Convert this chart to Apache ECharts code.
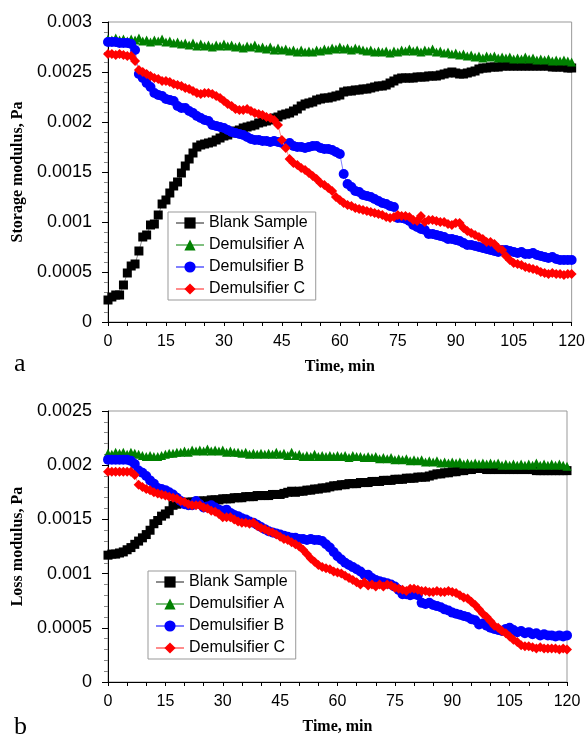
<!DOCTYPE html>
<html>
<head>
<meta charset="utf-8">
<script src="https://cdn.jsdelivr.net/npm/echarts@6/dist/echarts.min.js"></script>
<style>
  html, body { margin: 0; padding: 0; background: #fff; }
  #chart { width: 588px; height: 736px; }
</style>
</head>
<body>
<div id="chart"></div>
<script>
// time axis, one reading per minute
const minutes = Array.from({ length: 121 }, (_, i) => i)
const seriesNames = ['Blank Sample', 'Demulsifier A', 'Demulsifier B', 'Demulsifier C']

// (a) storage modulus, Pa
const blankStorage = [
  0.00022, 0.00025, 0.00027, 0.00027, 0.00037, 0.00049, 0.00056, 0.00058, 0.00071, 0.00085,
  0.00087, 0.00097, 0.00098, 0.00107, 0.00118, 0.00122, 0.00129, 0.00136, 0.00140, 0.00149,
  0.00156, 0.00163, 0.00169, 0.00175, 0.00177, 0.00178, 0.00179, 0.00180, 0.00182, 0.00184,
  0.00186, 0.00187, 0.00189, 0.00191, 0.00192, 0.00194, 0.00195, 0.00196, 0.00197, 0.00199,
  0.00200, 0.00201, 0.00202, 0.00204, 0.00205, 0.00207, 0.00208, 0.00209, 0.00211, 0.00213,
  0.00216, 0.00218, 0.00219, 0.00220, 0.00222, 0.00223, 0.00224, 0.00224, 0.00225, 0.00226,
  0.00227, 0.00230, 0.00231, 0.00231, 0.00232, 0.00232, 0.00233, 0.00233, 0.00234, 0.00235,
  0.00236, 0.00236, 0.00237, 0.00239, 0.00241, 0.00243, 0.00244, 0.00244, 0.00244, 0.00244,
  0.00245, 0.00245, 0.00245, 0.00246, 0.00246, 0.00246, 0.00247, 0.00248, 0.00249, 0.00250,
  0.00249, 0.00248, 0.00248, 0.00249, 0.00250, 0.00251, 0.00253, 0.00254, 0.00254, 0.00255,
  0.00255, 0.00255, 0.00256, 0.00256, 0.00256, 0.00256, 0.00256, 0.00256, 0.00256, 0.00256,
  0.00256, 0.00256, 0.00256, 0.00256, 0.00256, 0.00255, 0.00255, 0.00255, 0.00255, 0.00254, 0.00254
]
const demAStorage = [
  0.00283, 0.00282, 0.00284, 0.00282, 0.00283, 0.00281, 0.00283, 0.00282, 0.00284, 0.00281,
  0.00282, 0.00280, 0.00282, 0.00281, 0.00283, 0.00280, 0.00281, 0.00279, 0.00280, 0.00278,
  0.00279, 0.00277, 0.00279, 0.00276, 0.00278, 0.00276, 0.00277, 0.00275, 0.00277, 0.00276,
  0.00278, 0.00276, 0.00277, 0.00275, 0.00276, 0.00274, 0.00276, 0.00275, 0.00277, 0.00274,
  0.00275, 0.00273, 0.00275, 0.00272, 0.00274, 0.00272, 0.00273, 0.00271, 0.00272, 0.00270,
  0.00272, 0.00270, 0.00271, 0.00270, 0.00272, 0.00271, 0.00273, 0.00272, 0.00274, 0.00273,
  0.00275, 0.00273, 0.00274, 0.00272, 0.00274, 0.00273, 0.00272, 0.00271, 0.00272, 0.00270,
  0.00271, 0.00270, 0.00271, 0.00269, 0.00271, 0.00270, 0.00272, 0.00271, 0.00273, 0.00271,
  0.00272, 0.00270, 0.00272, 0.00271, 0.00273, 0.00270, 0.00271, 0.00269, 0.00270, 0.00268,
  0.00269, 0.00267, 0.00268, 0.00266, 0.00267, 0.00265, 0.00266, 0.00264, 0.00266, 0.00265,
  0.00266, 0.00264, 0.00265, 0.00264, 0.00265, 0.00263, 0.00264, 0.00263, 0.00265, 0.00263,
  0.00264, 0.00262, 0.00263, 0.00262, 0.00263, 0.00261, 0.00262, 0.00261, 0.00262, 0.00261, 0.00260
]
const demBStorage = [
  0.00280, 0.00280, 0.00280, 0.00279, 0.00279, 0.00279, 0.00278, 0.00272, 0.00248, 0.00244,
  0.00239, 0.00235, 0.00229, 0.00227, 0.00226, 0.00223, 0.00222, 0.00221, 0.00216, 0.00214,
  0.00214, 0.00211, 0.00209, 0.00206, 0.00204, 0.00202, 0.00201, 0.00197, 0.00196, 0.00195,
  0.00194, 0.00192, 0.00190, 0.00189, 0.00188, 0.00187, 0.00185, 0.00183, 0.00182, 0.00182,
  0.00181, 0.00181, 0.00180, 0.00181, 0.00180, 0.00179, 0.00177, 0.00179, 0.00176, 0.00175,
  0.00175, 0.00174, 0.00175, 0.00176, 0.00176, 0.00174, 0.00173, 0.00173, 0.00172, 0.00170,
  0.00168, 0.00148, 0.00138, 0.00135, 0.00131, 0.00130, 0.00127, 0.00126, 0.00125, 0.00123,
  0.00121, 0.00119, 0.00118, 0.00116, 0.00115, 0.00104, 0.00104, 0.00103, 0.00101, 0.00097,
  0.00095, 0.00093, 0.00092, 0.00088, 0.00088, 0.00087, 0.00086, 0.00085, 0.00083, 0.00083,
  0.00082, 0.00081, 0.00079, 0.00077, 0.00077, 0.00076, 0.00075, 0.00074, 0.00073, 0.00072,
  0.00071, 0.00070, 0.00072, 0.00072, 0.00071, 0.00070, 0.00069, 0.00070, 0.00068, 0.00068,
  0.00069, 0.00067, 0.00066, 0.00065, 0.00064, 0.00065, 0.00063, 0.00062, 0.00062, 0.00062, 0.00062
]
const demCStorage = [
  0.00268, 0.00268, 0.00267, 0.00268, 0.00267, 0.00266, 0.00266, 0.00261, 0.00252, 0.00250,
  0.00248, 0.00246, 0.00244, 0.00243, 0.00241, 0.00241, 0.00240, 0.00238, 0.00237, 0.00236,
  0.00234, 0.00233, 0.00231, 0.00229, 0.00228, 0.00229, 0.00229, 0.00228, 0.00226, 0.00224,
  0.00221, 0.00218, 0.00216, 0.00213, 0.00212, 0.00212, 0.00213, 0.00211, 0.00209, 0.00208,
  0.00207, 0.00205, 0.00204, 0.00202, 0.00197, 0.00182, 0.00174, 0.00163, 0.00159, 0.00157,
  0.00154, 0.00152, 0.00149, 0.00146, 0.00143, 0.00139, 0.00137, 0.00134, 0.00131, 0.00125,
  0.00122, 0.00119, 0.00117, 0.00116, 0.00114, 0.00113, 0.00112, 0.00111, 0.00110, 0.00109,
  0.00108, 0.00107, 0.00105, 0.00104, 0.00105, 0.00107, 0.00106, 0.00106, 0.00105, 0.00102,
  0.00101, 0.00106, 0.00100, 0.00102, 0.00102, 0.00101, 0.00100, 0.00100, 0.00098, 0.00097,
  0.00099, 0.00099, 0.00094, 0.00091, 0.00089, 0.00087, 0.00085, 0.00083, 0.00080, 0.00080,
  0.00078, 0.00074, 0.00072, 0.00066, 0.00062, 0.00059, 0.00058, 0.00057, 0.00055, 0.00054,
  0.00053, 0.00052, 0.00050, 0.00049, 0.00048, 0.00049, 0.00048, 0.00048, 0.00047, 0.00048, 0.00048
]

// (b) loss modulus, Pa
const blankLoss = [
  0.00117, 0.00118, 0.00118, 0.00119, 0.00120, 0.00122, 0.00124, 0.00127, 0.00130, 0.00133,
  0.00136, 0.00140, 0.00146, 0.00149, 0.00153, 0.00155, 0.00158, 0.00163, 0.00164, 0.00165,
  0.00165, 0.00166, 0.00166, 0.00166, 0.00167, 0.00167, 0.00167, 0.00168, 0.00168, 0.00168,
  0.00169, 0.00169, 0.00169, 0.00170, 0.00170, 0.00170, 0.00171, 0.00171, 0.00171, 0.00172,
  0.00172, 0.00172, 0.00172, 0.00173, 0.00173, 0.00173, 0.00174, 0.00175, 0.00176, 0.00175,
  0.00176, 0.00176, 0.00177, 0.00177, 0.00178, 0.00178, 0.00179, 0.00179, 0.00180, 0.00181,
  0.00181, 0.00182, 0.00182, 0.00183, 0.00183, 0.00183, 0.00184, 0.00184, 0.00184, 0.00185,
  0.00185, 0.00185, 0.00186, 0.00186, 0.00186, 0.00187, 0.00187, 0.00187, 0.00188, 0.00188,
  0.00188, 0.00189, 0.00189, 0.00189, 0.00190, 0.00191, 0.00192, 0.00192, 0.00193, 0.00193,
  0.00194, 0.00194, 0.00195, 0.00195, 0.00196, 0.00196, 0.00197, 0.00197, 0.00197, 0.00196,
  0.00196, 0.00196, 0.00196, 0.00196, 0.00196, 0.00196, 0.00196, 0.00196, 0.00196, 0.00196,
  0.00196, 0.00196, 0.00195, 0.00195, 0.00195, 0.00195, 0.00195, 0.00195, 0.00195, 0.00195, 0.00195
]
const demALoss = [
  0.00211, 0.00210, 0.00212, 0.00211, 0.00212, 0.00210, 0.00212, 0.00211, 0.00210, 0.00209,
  0.00208, 0.00209, 0.00208, 0.00208, 0.00209, 0.00210, 0.00211, 0.00211, 0.00212, 0.00212,
  0.00213, 0.00212, 0.00214, 0.00213, 0.00214, 0.00213, 0.00215, 0.00213, 0.00214, 0.00213,
  0.00214, 0.00212, 0.00213, 0.00212, 0.00212, 0.00211, 0.00212, 0.00210, 0.00211, 0.00210,
  0.00211, 0.00210, 0.00211, 0.00210, 0.00212, 0.00210, 0.00211, 0.00209, 0.00212, 0.00209,
  0.00210, 0.00208, 0.00209, 0.00208, 0.00210, 0.00208, 0.00209, 0.00208, 0.00209, 0.00208,
  0.00209, 0.00208, 0.00209, 0.00207, 0.00209, 0.00208, 0.00208, 0.00207, 0.00208, 0.00207,
  0.00208, 0.00206, 0.00207, 0.00206, 0.00207, 0.00205, 0.00206, 0.00205, 0.00206, 0.00204,
  0.00205, 0.00204, 0.00205, 0.00203, 0.00204, 0.00203, 0.00204, 0.00202, 0.00203, 0.00202,
  0.00203, 0.00202, 0.00203, 0.00201, 0.00202, 0.00201, 0.00202, 0.00201, 0.00202, 0.00201,
  0.00202, 0.00201, 0.00202, 0.00200, 0.00201, 0.00200, 0.00201, 0.00200, 0.00201, 0.00200,
  0.00201, 0.00200, 0.00202, 0.00200, 0.00201, 0.00200, 0.00201, 0.00200, 0.00201, 0.00200, 0.00199
]
const demBLoss = [
  0.00205, 0.00205, 0.00205, 0.00205, 0.00205, 0.00205, 0.00204, 0.00201, 0.00195, 0.00193,
  0.00190, 0.00186, 0.00183, 0.00179, 0.00178, 0.00177, 0.00175, 0.00173, 0.00170, 0.00167,
  0.00164, 0.00163, 0.00163, 0.00167, 0.00164, 0.00161, 0.00162, 0.00163, 0.00161, 0.00159,
  0.00158, 0.00159, 0.00156, 0.00154, 0.00153, 0.00151, 0.00150, 0.00148, 0.00147, 0.00145,
  0.00143, 0.00141, 0.00139, 0.00138, 0.00137, 0.00136, 0.00135, 0.00134, 0.00133, 0.00133,
  0.00132, 0.00132, 0.00131, 0.00132, 0.00131, 0.00131, 0.00130, 0.00127, 0.00124, 0.00120,
  0.00116, 0.00113, 0.00110, 0.00108, 0.00106, 0.00104, 0.00102, 0.00099, 0.00099, 0.00096,
  0.00094, 0.00093, 0.00092, 0.00091, 0.00090, 0.00088, 0.00085, 0.00081, 0.00081, 0.00080,
  0.00081, 0.00080, 0.00073, 0.00072, 0.00073, 0.00071, 0.00070, 0.00069, 0.00067, 0.00066,
  0.00064, 0.00063, 0.00062, 0.00061, 0.00060, 0.00058, 0.00057, 0.00053, 0.00054, 0.00052,
  0.00050, 0.00049, 0.00048, 0.00047, 0.00049, 0.00050, 0.00048, 0.00046, 0.00047, 0.00045,
  0.00046, 0.00044, 0.00045, 0.00043, 0.00044, 0.00043, 0.00043, 0.00042, 0.00043, 0.00042, 0.00043
]
const demCLoss = [
  0.00194, 0.00194, 0.00194, 0.00194, 0.00194, 0.00194, 0.00194, 0.00191, 0.00182, 0.00180,
  0.00178, 0.00177, 0.00175, 0.00174, 0.00173, 0.00172, 0.00171, 0.00170, 0.00169, 0.00167,
  0.00166, 0.00164, 0.00163, 0.00163, 0.00163, 0.00161, 0.00160, 0.00158, 0.00157, 0.00155,
  0.00152, 0.00152, 0.00152, 0.00150, 0.00148, 0.00147, 0.00147, 0.00146, 0.00147, 0.00144,
  0.00142, 0.00141, 0.00139, 0.00138, 0.00136, 0.00134, 0.00132, 0.00131, 0.00129, 0.00127,
  0.00125, 0.00122, 0.00118, 0.00114, 0.00111, 0.00108, 0.00106, 0.00105, 0.00104, 0.00102,
  0.00101, 0.00100, 0.00098, 0.00096, 0.00094, 0.00092, 0.00090, 0.00092, 0.00089, 0.00090,
  0.00088, 0.00090, 0.00088, 0.00090, 0.00089, 0.00087, 0.00086, 0.00085, 0.00084, 0.00086,
  0.00086, 0.00085, 0.00084, 0.00084, 0.00083, 0.00083, 0.00084, 0.00083, 0.00083, 0.00084,
  0.00083, 0.00082, 0.00080, 0.00078, 0.00077, 0.00074, 0.00071, 0.00067, 0.00063, 0.00060,
  0.00056, 0.00052, 0.00050, 0.00047, 0.00045, 0.00042, 0.00039, 0.00037, 0.00034, 0.00033,
  0.00033, 0.00032, 0.00031, 0.00032, 0.00031, 0.00031, 0.00031, 0.00031, 0.00030, 0.00031, 0.00030
]

const sansFont = 'Arial, "Liberation Sans", sans-serif'
const serifFont = '"Times New Roman", "Liberation Serif", serif'

// marker + line look for each sample
const looks = [
  { symbol: 'rect', size: 9, color: '#000000', line: '#8c8c8c' },
  { symbol: 'triangle', size: 9, color: '#008000', line: '#80c080' },
  { symbol: 'circle', size: 10, color: '#0000ff', line: '#8080ff' },
  { symbol: 'diamond', size: 10, color: '#ff0000', line: '#ff8c8c' },
]

function toPairs(values) {
  return minutes.map((t, i) => [t, values[i]])
}

function makeXAxis(gridIndex) {
  return {
    type: 'value',
    gridIndex: gridIndex,
    min: 0,
    max: 120,
    interval: 15,
    name: 'Time, min',
    nameLocation: 'middle',
    nameGap: 37,
    nameTextStyle: { fontFamily: serifFont, fontWeight: 'bold', fontSize: 16, color: '#000' },
    axisLine: { lineStyle: { color: '#000', width: 1 } },
    axisTick: { length: 4, lineStyle: { color: '#000' } },
    minorTick: { show: true, splitNumber: 3, length: 4, lineStyle: { color: '#000' } },
    axisLabel: { fontFamily: sansFont, fontSize: 16, color: '#000', margin: 12 },
    splitLine: { show: false },
  }
}

function makeYAxis(gridIndex, max, name) {
  return {
    type: 'value',
    gridIndex: gridIndex,
    min: 0,
    max: max,
    interval: 0.0005,
    name: name,
    nameLocation: 'middle',
    nameGap: 80,
    nameTextStyle: { fontFamily: serifFont, fontWeight: 'bold', fontSize: 16, color: '#000' },
    axisLine: { show: true, lineStyle: { color: '#000', width: 1 } },
    axisTick: { show: true, length: 6, lineStyle: { color: '#000' } },
    minorTick: { show: true, splitNumber: 5, length: 4, lineStyle: { color: '#888' } },
    axisLabel: {
      fontFamily: sansFont, fontSize: 18, color: '#000', margin: 16,
      formatter: v => String(+v.toFixed(4)),
    },
    splitLine: { show: false },
  }
}

function makeSeries(values, k, axisIndex) {
  const look = looks[k]
  return {
    name: seriesNames[k],
    type: 'line',
    xAxisIndex: axisIndex,
    yAxisIndex: axisIndex,
    data: toPairs(values),
    symbol: look.symbol,
    symbolSize: look.size,
    showAllSymbol: true,
    itemStyle: { color: look.color },
    lineStyle: { color: look.line, width: 1 },
    z: 2 + k,
  }
}

function makeLegend(left, top) {
  return {
    orient: 'vertical',
    left: left,
    top: top,
    data: seriesNames,
    backgroundColor: '#fff',
    borderColor: '#999',
    borderWidth: 1,
    borderRadius: 0,
    padding: [3, 8, 3, 7],
    itemGap: 6,
    itemWidth: 28,
    itemHeight: 14,
    textStyle: { fontFamily: sansFont, fontSize: 16, color: '#000' },
    selectedMode: false,
  }
}

const chart = echarts.init(document.getElementById('chart'))
chart.setOption({
  animation: false,
  backgroundColor: '#fff',
  grid: [
    { left: 108, top: 22, width: 465, height: 300, show: true, borderColor: '#999', borderWidth: 1 },
    { left: 108, top: 411, width: 459, height: 277, show: true, borderColor: '#999', borderWidth: 1 },
  ],
  xAxis: [makeXAxis(0), makeXAxis(1)],
  yAxis: [
    makeYAxis(0, 0.003, 'Storage modulus, Pa'),
    makeYAxis(1, 0.0025, 'Loss modulus, Pa'),
  ],
  legend: [makeLegend(168, 212), makeLegend(148, 571)],
  series: [
    makeSeries(blankStorage, 0, 0),
    makeSeries(demAStorage, 1, 0),
    makeSeries(demBStorage, 2, 0),
    makeSeries(demCStorage, 3, 0),
    makeSeries(blankLoss, 0, 1),
    makeSeries(demALoss, 1, 1),
    makeSeries(demBLoss, 2, 1),
    makeSeries(demCLoss, 3, 1),
  ],
  graphic: [
    { type: 'text', left: 14, top: 351, style: { text: 'a', font: '26px ' + serifFont, fill: '#000' } },
    { type: 'text', left: 14, top: 714, style: { text: 'b', font: '26px ' + serifFont, fill: '#000' } },
  ],
})
</script>
</body>
</html>
